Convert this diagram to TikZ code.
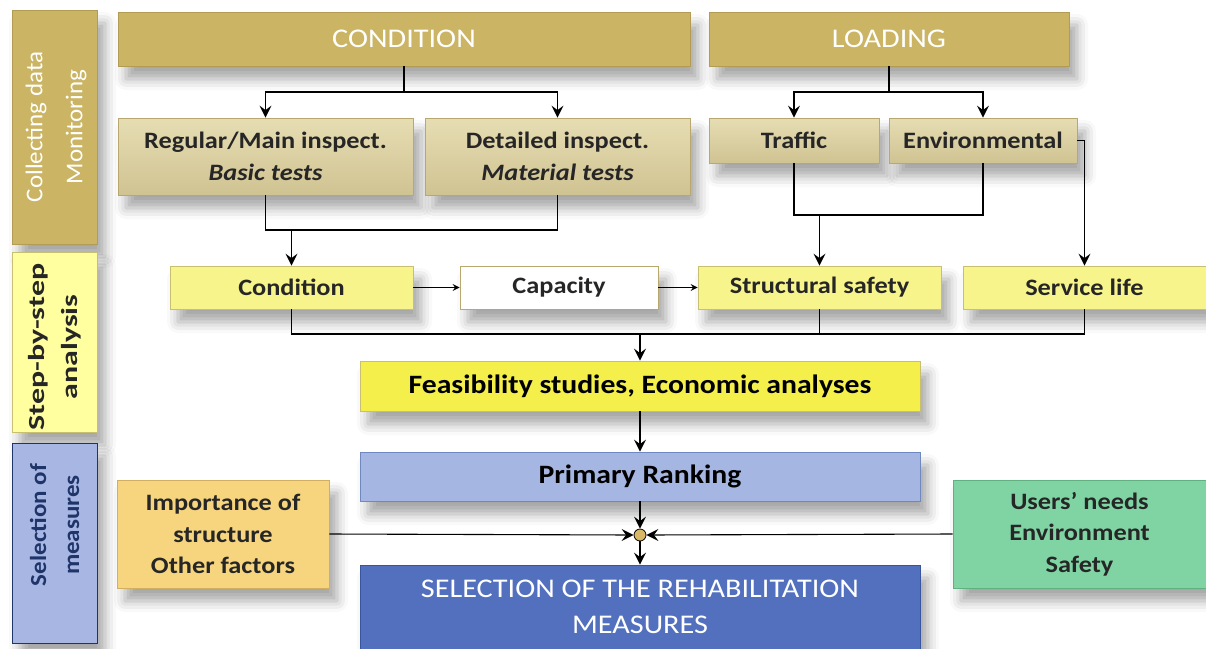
\documentclass[tikz,border=0pt]{standalone}
\usepackage{fontspec}
\setmainfont{Carlito}[FakeStretch=1.12]
\usetikzlibrary{arrows.meta,shadows.blur}
\definecolor{khaki}{HTML}{CBB565}
\definecolor{khakiB}{HTML}{B09C55}
\definecolor{lkhakiT}{HTML}{E6DDB3}
\definecolor{lkhakiB}{HTML}{D0C392}
\definecolor{lkhakiD}{HTML}{B8A870}
\definecolor{lyel}{HTML}{F7F48C}
\definecolor{lyelB}{HTML}{C8C070}
\definecolor{byel}{HTML}{F4EF4A}
\definecolor{lblue}{HTML}{A5B6E2}
\definecolor{lblueB}{HTML}{7088C0}
\definecolor{dblue}{HTML}{5270BE}
\definecolor{dblueB}{HTML}{3A55A0}
\definecolor{orng}{HTML}{F6D57E}
\definecolor{orngB}{HTML}{D0B060}
\definecolor{grn}{HTML}{80D4A4}
\definecolor{grnB}{HTML}{60B080}
\definecolor{stepY}{HTML}{FFFFA0}
\definecolor{selB}{HTML}{A8B6E4}
\definecolor{navy}{HTML}{1F3468}
\definecolor{txt}{HTML}{262626}
\definecolor{junc}{HTML}{D8B866}
\tikzset{
  shad/.style={blur shadow={shadow xshift=8pt,shadow yshift=-13pt,shadow blur radius=11pt,shadow opacity=35}},
  bx/.style={rectangle,inner sep=0pt,align=center,line width=0.8pt,text=txt,shad},
  arr/.style={-{Stealth[length=12pt,width=12pt,inset=4.5pt]},line width=1.1pt,black},
  sarr/.style={-{Stealth[length=7pt,width=7pt,inset=2.5pt]},line width=1.1pt,black},
  ln/.style={line width=1.1pt,black},
  f20/.style={font=\fontsize{23.5}{31.5}\selectfont\bfseries},
  hdr/.style={text=white,font=\fontsize{27}{32}\selectfont},
}
\begin{document}
\begin{tikzpicture}[x=1pt,y=-1pt]
\useasboundingbox (0,0) rectangle (1206,648);
% left column
\node[bx,draw=khakiB,fill=khaki,minimum width=85,minimum height=234] (lc) at (54.5,127) {};
\node[rotate=90,align=center,text=white,font=\fontsize{24}{40}\selectfont] (lct) at ([xshift=1.5pt]lc.center) {\scalebox{0.93}[1]{Collecting data}\\\scalebox{0.93}[1]{Monitoring}};
\node[bx,draw=lyelB,fill=stepY,minimum width=85,minimum height=180] (ls) at (54.5,342) {};
\node[rotate=90,align=center,text=txt,font=\fontsize{23}{33}\selectfont\bfseries] (lst) at ([yshift=-5pt]ls.center) {\scalebox{1.24}[1]{Step-by-step}\\\scalebox{1.24}[1]{analysis}};
\node[bx,draw=navy,fill=selB,minimum width=85,minimum height=200] (lm) at (54.5,543) {};
\node[rotate=90,align=center,text=navy,font=\fontsize{23}{33}\selectfont\bfseries] (lmt) at ([yshift=18pt]lm.center) {\scalebox{0.97}[1]{Selection of}\\\scalebox{0.97}[1]{measures}};
% top row
\node[bx,draw=khakiB,fill=khaki,minimum width=572,minimum height=54,hdr] (cond) at (404,39) {CONDITION};
\node[bx,draw=khakiB,fill=khaki,minimum width=360,minimum height=54,hdr] (load) at (889,39) {LOADING};
% second row
\node[bx,draw=lkhakiD,top color=lkhakiT,bottom color=lkhakiB,minimum width=295,minimum height=77,f20] (reg) at (265.5,156.5) {Regular/Main inspect.\\\itshape Basic tests};
\node[bx,draw=lkhakiD,top color=lkhakiT,bottom color=lkhakiB,minimum width=265,minimum height=77,f20] (det) at (557.5,156.5) {Detailed inspect.\\\itshape Material tests};
\node[bx,draw=lkhakiD,top color=lkhakiT,bottom color=lkhakiB,minimum width=170,minimum height=45,f20] (traf) at (794,140.5) {Traffic};
\node[bx,draw=lkhakiD,top color=lkhakiT,bottom color=lkhakiB,minimum width=188,minimum height=45,f20] (env) at (983,140.5) {Environmental};
% analysis row
\node[bx,draw=lyelB,fill=lyel,minimum width=243,minimum height=43,f20] (cnd) at (291.5,287.5) {Condition};
\node[bx,draw=lkhakiD,fill=white,minimum width=198,minimum height=43,f20] (cap) at (559,287.5) {Capacity};
\node[bx,draw=lyelB,fill=lyel,minimum width=243,minimum height=43,f20] (ss) at (819.5,287.5) {Structural safety};
\node[bx,draw=lyelB,fill=lyel,minimum width=243,minimum height=43,f20] (sl) at (1084.5,287.5) {Service life};
% feasibility, ranking
\node[bx,draw=lyelB,fill=byel,minimum width=560,minimum height=50,text=black,font=\fontsize{26.5}{31}\selectfont\bfseries] (feas) at (640,386) {Feasibility studies, Economic analyses};
\node[bx,draw=lblueB,fill=lblue,minimum width=560,minimum height=49,text=black,font=\fontsize{26.5}{31}\selectfont\bfseries] (rank) at (640,476.5) {Primary Ranking};
\node[bx,draw=orngB,fill=orng,minimum width=212,minimum height=108,f20] (imp) at (223,534) {Importance of\\structure\\Other factors};
\node[bx,draw=grnB,fill=grn,minimum width=253,minimum height=108,f20] (usr) at (1079.5,534) {Users' needs\\Environment\\Safety};
\node[bx,draw=dblueB,fill=dblue,minimum width=560,minimum height=84,text=white,font=\fontsize{27}{36}\selectfont] (sel) at (640,607) {SELECTION OF THE REHABILITATION\\MEASURES};
\node[circle,draw=black,line width=0.8pt,fill=junc,minimum size=12pt,inner sep=0pt] (j) at (640,535) {};
% connectors
\coordinate (c1) at (404,92);
\draw[ln] (cond.south) -- (c1);
\draw[arr] (c1) -| (reg.north);
\draw[arr] (c1) -| (det.north);
\coordinate (c2) at (889,92);
\draw[ln] (load.south) -- (c2);
\draw[arr] (c2) -| (traf.north);
\draw[arr] (c2) -| (env.north);
\coordinate (m1) at (265.5,230);
\draw[ln] (reg.south) -- (m1) -| (det.south);
\draw[arr] (cnd.north |- m1) -- (cnd.north);
\coordinate (m2) at (794,215);
\draw[ln] (traf.south) -- (m2) -| (env.south);
\draw[arr] (ss.north |- m2) -- (ss.north);
\coordinate (e1) at (1084.5,140.5);
\draw[arr] (env.east) -- (e1) -- (sl.north);
\draw[sarr] (cnd.east) -- (cap.west);
\draw[sarr] (cap.east) -- (ss.west);
\coordinate (m3) at (291.5,334);
\draw[ln] (cnd.south) -- (m3) -| (sl.south);
\draw[ln] (ss.south) -- (ss.south |- m3);
\draw[arr] (feas.north |- m3) -- (feas.north);
\draw[arr] (feas.south) -- (rank.north);
\draw[arr] (rank.south) -- (j.north);
\draw[arr] (imp.east) -- (j.west);
\draw[arr] (usr.west) -- (j.east);
\draw[arr] (j.south) -- (sel.north);
\end{tikzpicture}
\end{document}
